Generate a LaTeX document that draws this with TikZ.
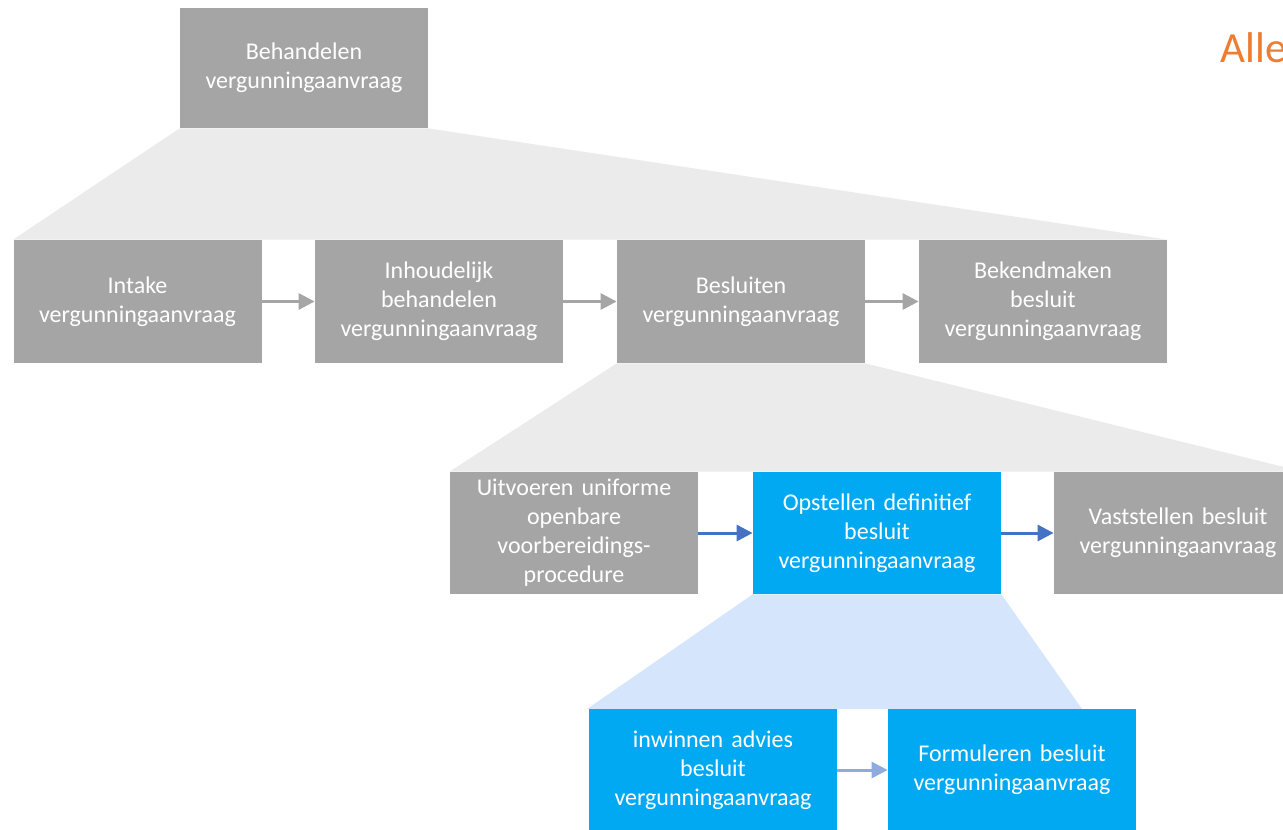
\documentclass[tikz,border=0pt]{standalone}
\usepackage{fontspec}
\setmainfont{Carlito}
\usetikzlibrary{arrows.meta, backgrounds}

\definecolor{boxgray}{HTML}{A5A5A5}
\definecolor{fangray}{HTML}{EBEBEB}
\definecolor{boxblue}{HTML}{00A9F1}
\definecolor{fanblue}{HTML}{D5E6FC}
\definecolor{arrowblue}{HTML}{4472C4}
\definecolor{arrowlight}{HTML}{8FAADC}
\definecolor{titleorange}{HTML}{ED7D31}

\begin{document}
\begin{tikzpicture}[x = 0.5pt, y = -0.5pt, > = {Triangle[length = 8pt, width = 8pt]}, font = \fontsize{12}{14.5}\selectfont,
	task/.style = {fill = boxgray, text = white, minimum width = 124pt, minimum height = 61.5pt, text width = 118pt, align = center, inner sep = 0pt},
	active/.style = {task, fill = boxblue},
	flow/.style = {->, line width = 1.5pt, boxgray}]

	% Definitions

	\def\rowa{301.5}	% Row centres (pixels)
	\def\rowb{533}
	\def\rowc{770}

	\clip (0, 0) rectangle (1283, 829);

	% Draw title

	\node [anchor = base west, text = titleorange, font = \fontsize{21.5}{26}\selectfont, inner sep = 0pt] (alle) at (1220, 63) {Alle};

	% Draw tasks

	\node [task, minimum height = 60pt] (behandelen) at (304, 68) {Behandelen\\vergunningaanvraag};

	\node [task] (intake) at (137.5, \rowa) {Intake\\vergunningaanvraag};
	\node [task] (inhoudelijk) at (439, \rowa) {Inhoudelijk\\behandelen\\vergunningaanvraag};
	\node [task] (besluiten) at (741, \rowa) {Besluiten\\vergunningaanvraag};
	\node [task] (bekendmaken) at (1043, \rowa) {Bekendmaken\\besluit\\vergunningaanvraag};

	\node [task, minimum height = 61pt] (uitvoeren) at (574, \rowb) {Uitvoeren uniforme\\openbare\\voorbereidings-\\procedure};
	\node [active, minimum height = 61pt] (opstellen) at (877, \rowb) {Opstellen definitief\\besluit\\vergunningaanvraag};
	\node [task, minimum height = 61pt] (vaststellen) at (1178, \rowb) {Vaststellen besluit\\vergunningaanvraag};

	\node [active, minimum height = 61pt] (inwinnen) at (713, \rowc) {inwinnen advies\\besluit\\vergunningaanvraag};
	\node [active, minimum height = 61pt] (formuleren) at (1012, \rowc) {Formuleren besluit\\vergunningaanvraag};

	\coordinate (fanleft) at (587, 709);
	\coordinate (fanright) at (1082, 709);

	% Draw fans

	\begin{scope}[on background layer]
		\fill [fangray] (behandelen.south west) -- (behandelen.south east) -- (bekendmaken.north east) -- (intake.north west) -- cycle;
		\fill [fangray] (besluiten.south west) -- (besluiten.south east) -- (vaststellen.north east) -- (uitvoeren.north west) -- cycle;
		\fill [fanblue] (opstellen.south west) -- (opstellen.south east) -- (fanright) -- (fanleft) -- cycle;
	\end{scope}

	% Draw arrows

	\draw [flow] (intake) -- (inhoudelijk);
	\draw [flow] (inhoudelijk) -- (besluiten);
	\draw [flow] (besluiten) -- (bekendmaken);

	\draw [flow, arrowblue] (uitvoeren) -- (opstellen);
	\draw [flow, arrowblue] (opstellen) -- (vaststellen);

	\draw [flow, arrowlight] (inwinnen) -- (formuleren);

\end{tikzpicture}
\end{document}
